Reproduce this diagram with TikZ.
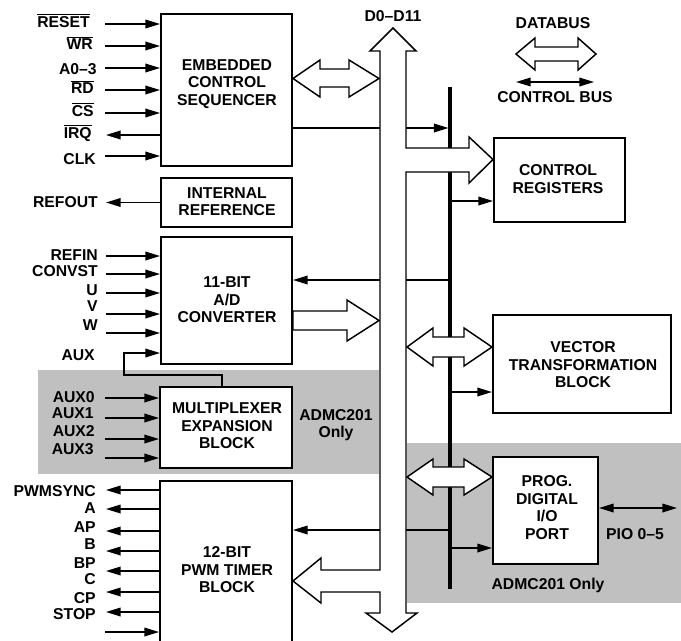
\documentclass[tikz,border=0pt]{standalone}
\usepackage{fontspec}
\setmainfont{Liberation Sans}
\usetikzlibrary{arrows.meta}
\definecolor{grayfill}{RGB}{192,192,192}
\newcommand\ovl[1]{$\overline{\hbox{#1}}$}
\begin{document}
\begin{tikzpicture}[x=0.75pt,y=-0.75pt,
  font=\bfseries\fontsize{11.8}{13.1}\selectfont,
  box/.style={draw,line width=1.5pt,fill=white,inner sep=0pt},
  boxtext/.style={align=center,inner sep=0pt},
  lbl/.style={anchor=base east,inner sep=0pt},
  conn/.style={line width=1.1pt},
  arr/.style={conn,-{Triangle[length=11pt,width=6.5pt]}},
  darr/.style={conn,{Triangle[length=11pt,width=6.5pt]}-{Triangle[length=11pt,width=6.5pt]}},
  hollow/.style={draw,line width=1.1pt,fill=white,line join=miter},
  cbus/.style={line width=3pt},
]
\useasboundingbox (0,0) rectangle (681,640);
\clip (0,0) rectangle (681,640);

% shaded regions
\fill[grayfill] (38,370) rectangle (379,474);
\fill[grayfill] (407,443) rectangle (681,603);

% blocks
\node[box,minimum width=98.25pt,minimum height=114pt] (ecs) at (226.5,90) {};
\node[box,minimum width=98.25pt,minimum height=36.75pt] (iref) at (226.5,202.5) {};
\node[box,minimum width=98.25pt,minimum height=95.25pt] (adc) at (226.5,300.5) {};
\node[box,minimum width=99pt,minimum height=60.75pt] (mux) at (226,427.5) {};
\node[box,minimum width=99pt,minimum height=123pt] (pwm) at (226,563) {};
\node[box,minimum width=98.25pt,minimum height=63pt] (creg) at (559.5,180) {};
\node[box,minimum width=133.5pt,minimum height=73.5pt] (vec) at (582,364) {};
\node[box,minimum width=78.75pt,minimum height=80.25pt] (pio) at (545.5,510.5) {};

% control bus spine
\coordinate (cbT) at (450,87);
\coordinate (cbB) at (450,589);
\draw[cbus] (cbT) -- (cbB);

% left side signals
\foreach \y in {24,46,68,90,113,156} \draw[arr] (105,\y) -- (ecs.west |- 0,\y);
\draw[arr] (ecs.west |- 0,135) -- (106,135);
\draw[arr] (iref.west) -- (106,202.5);
\foreach \y in {256,274,293,314,333} \draw[arr] (106,\y) -- (adc.west |- 0,\y);
\draw[arr] (222,0 |- mux.north) -- (222,375) -- (124,375) -- (124,353) -- (adc.west |- 0,353);
\foreach \y in {398,418,439,458} \draw[arr] (105,\y) -- (mux.west |- 0,\y);
\foreach \y in {490,509,531,551,571,592,612} \draw[arr] (pwm.west |- 0,\y) -- (106,\y);
\draw[arr] (105,632) -- (pwm.west |- 0,632);

% control bus connectors
\draw[arr] (ecs.east |- 0,128) -- (448.5,128);
\draw[arr] (451.5,201) -- (creg.west |- 0,201);
\draw[arr] (450,280) -- (adc.east |- 0,280);
\draw[arr] (451.5,392) -- (vec.west |- 0,392);
\draw[arr] (450,530) -- (pwm.east |- 0,530);
\draw[arr] (451.5,548) -- (pio.west |- 0,548);
\draw[darr] (pio.east |- 0,508) -- (677,508);

% data bus D0-D11
\draw[hollow] (393,28) -- (416,51) -- (406,51) -- (406,148) -- (469,148) -- (469,137)
  -- (creg.west |- 0,159.5) -- (469,183) -- (469,172) -- (406,172) -- (406,613) -- (417,613)
  -- (392,632) -- (366,613) -- (380,613) -- (380,592) -- (321,592) -- (321,603)
  -- (pwm.east |- 0,581) -- (321,558) -- (321,570) -- (380,570) -- (380,51) -- (370,51) -- cycle;

% hollow bus arrows
\draw[hollow] (ecs.east |- 0,78.5) -- (320,60) -- (320,69) -- (349,69) -- (349,60) -- (379,78.5)
  -- (349,97) -- (349,87) -- (320,87) -- (320,97) -- cycle;
\draw[hollow] (adc.east |- 0,311) -- (347,311) -- (347,300) -- (379,320.5) -- (347,341)
  -- (347,330) -- (adc.east |- 0,330) -- cycle;
\draw[hollow] (407,347) -- (433,328) -- (433,337) -- (464,337) -- (464,328) -- (vec.west |- 0,347)
  -- (464,366) -- (464,357) -- (433,357) -- (433,366) -- cycle;
\draw[hollow] (407,477) -- (433,459) -- (433,467) -- (464,467) -- (464,459) -- (pio.west |- 0,477)
  -- (464,495) -- (464,487) -- (433,487) -- (433,495) -- cycle;

% legend
\draw[hollow] (516,54) -- (535,38) -- (535,47) -- (578,47) -- (578,38) -- (596,54)
  -- (578,70) -- (578,61) -- (535,61) -- (535,70) -- cycle;
\coordinate (legL) at (516,82);
\coordinate (legR) at (594,82);
\draw[darr] (legL) -- (legR);

% block texts
\node[boxtext] (ecsT) at (227,84) {EMBEDDED\\CONTROL\\SEQUENCER};
\node[boxtext] (irefT) at (227,201.5) {INTERNAL\\REFERENCE};
\node[boxtext] (adcT) at (227,300) {11-BIT\\A/D\\CONVERTER};
\node[boxtext] (muxT) at (227,426) {MULTIPLEXER\\EXPANSION\\BLOCK};
\node[boxtext] (pwmT) at (227,570) {12-BIT\\PWM TIMER\\BLOCK};
\node[boxtext] (cregT) at (558,179) {CONTROL\\REGISTERS};
\node[boxtext] (vecT) at (583,365) {VECTOR\\TRANSFORMATION\\BLOCK};
\node[boxtext] (pioT) at (547,507.5) {PROG.\\DIGITAL\\I/O\\PORT};

% other texts
\node[boxtext] (busT) at (393,16) {D0–D11};
\node[boxtext] (onlyL) at (336,425) {ADMC201\\Only};
\node[boxtext] (onlyR) at (548,585) {ADMC201 Only};
\node[boxtext] (pioL) at (635,534) {PIO 0–5};
\node[boxtext] (legD) at (553,23) {DATABUS};
\node[boxtext] (legC) at (555,97) {CONTROL BUS};

% pin labels
\node[lbl] (lRESET) at (90,27.6) {\ovl{RESET}};
\node[lbl] (lWR) at (93,49.6) {\ovl{WR}};
\node[lbl] (lA) at (97,74.6) {A0–3};
\node[lbl] (lRD) at (94,93.6) {\ovl{RD}};
\node[lbl] (lCS) at (94,116.6) {\ovl{CS}};
\node[lbl] (lIRQ) at (92,138.6) {\ovl{IRQ}};
\node[lbl] (lCLK) at (96,164.6) {CLK};
\node[lbl] (lREFOUT) at (98,207.6) {REFOUT};
\node[lbl] (lREFIN) at (98,260.6) {REFIN};
\node[lbl] (lCONVST) at (98,276.6) {CONVST};
\node[lbl] (lU) at (98,295.6) {U};
\node[lbl] (lV) at (98,311.6) {V};
\node[lbl] (lW) at (98,330.6) {W};
\node[lbl] (lAUX) at (95,360.6) {AUX};
\node[lbl] (lAUX0) at (95,402.6) {AUX0};
\node[lbl] (lAUX1) at (94,418.6) {AUX1};
\node[lbl] (lAUX2) at (95,436.6) {AUX2};
\node[lbl] (lAUX3) at (94,454.6) {AUX3};
\node[lbl] (lPWMSYNC) at (96,496.6) {PWMSYNC};
\node[lbl] (lPA) at (96,513.6) {A};
\node[lbl] (lPAP) at (96,532.6) {AP};
\node[lbl] (lPB) at (96,549.6) {B};
\node[lbl] (lPBP) at (96,568.6) {BP};
\node[lbl] (lPC) at (96,584.6) {C};
\node[lbl] (lPCP) at (96,603.6) {CP};
\node[lbl] (lSTOP) at (96,619.6) {STOP};
\end{tikzpicture}
\end{document}
